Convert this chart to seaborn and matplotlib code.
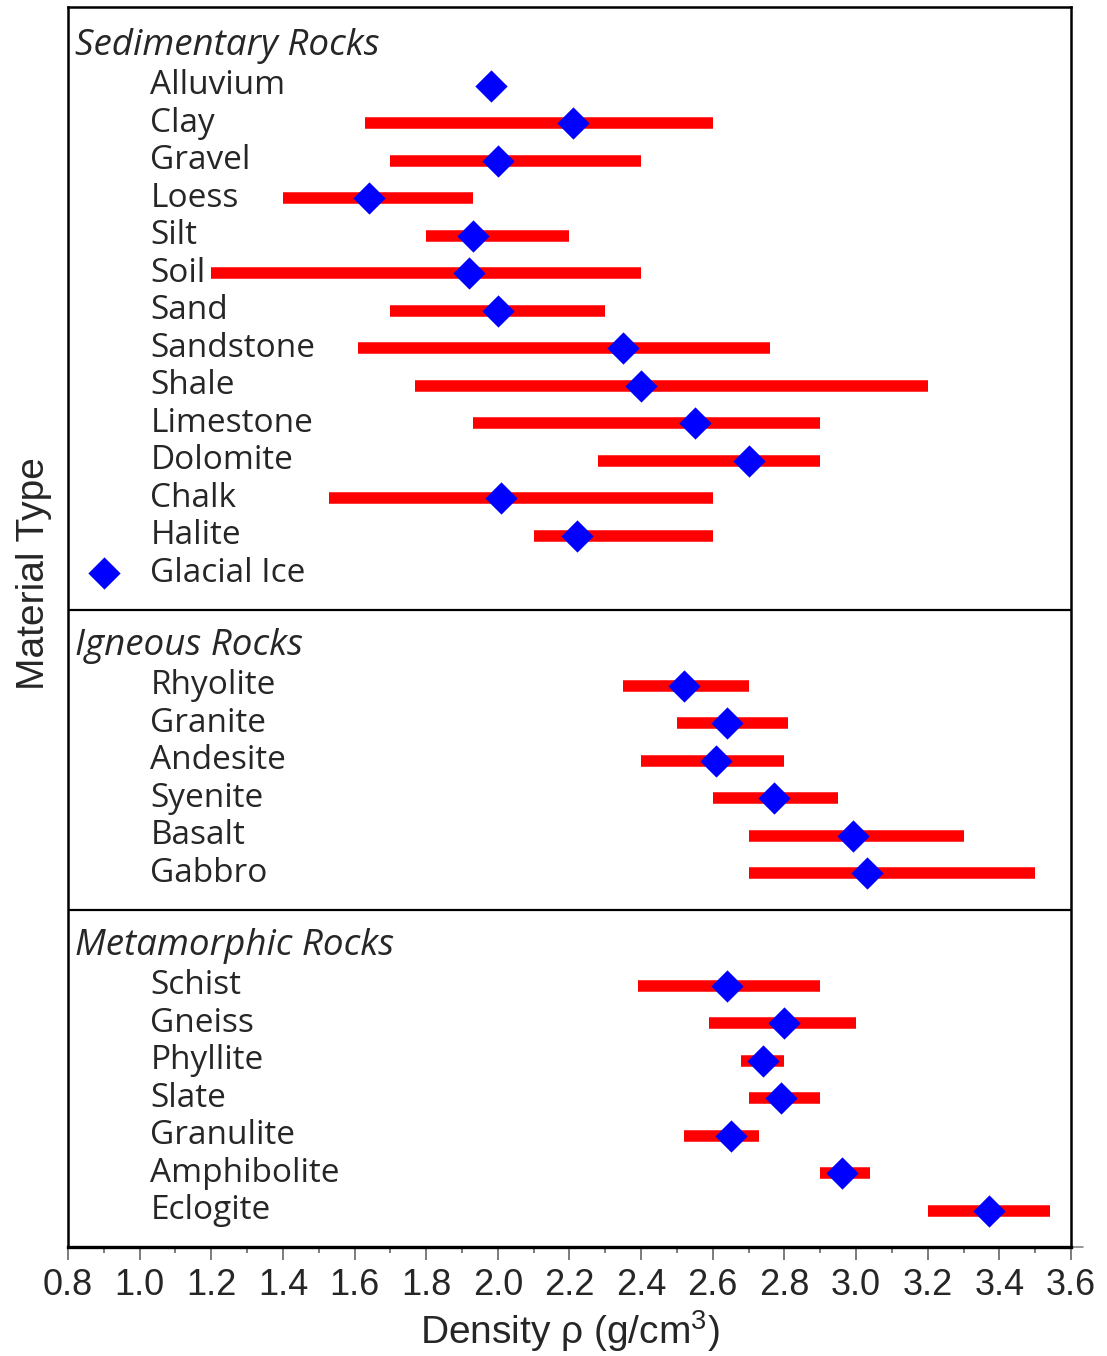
import numpy as np
import pandas as pd
import matplotlib
matplotlib.use('Agg')
import matplotlib.pyplot as plt
from matplotlib.ticker import MultipleLocator
import seaborn as sns

# rock groups and their members (top to bottom)
groups = ['Sedimentary Rocks', 'Igneous Rocks', 'Metamorphic Rocks']

sed_names = ['Alluvium', 'Clay', 'Gravel', 'Loess', 'Silt', 'Soil', 'Sand', 'Sandstone',
             'Shale', 'Limestone', 'Dolomite', 'Chalk', 'Halite', 'Glacial Ice']
sed_low = [np.nan, 1.63, 1.70, 1.40, 1.80, 1.20, 1.70, 1.61, 1.77, 1.93, 2.28, 1.53, 2.10, np.nan]
sed_high = [np.nan, 2.60, 2.40, 1.93, 2.20, 2.40, 2.30, 2.76, 3.20, 2.90, 2.90, 2.60, 2.60, np.nan]
sed_typ = [1.98, 2.21, 2.00, 1.64, 1.93, 1.92, 2.00, 2.35, 2.40, 2.55, 2.70, 2.01, 2.22, 0.90]

ign_names = ['Rhyolite', 'Granite', 'Andesite', 'Syenite', 'Basalt', 'Gabbro']
ign_low = [2.35, 2.50, 2.40, 2.60, 2.70, 2.70]
ign_high = [2.70, 2.81, 2.80, 2.95, 3.30, 3.50]
ign_typ = [2.52, 2.64, 2.61, 2.77, 2.99, 3.03]

met_names = ['Schist', 'Gneiss', 'Phyllite', 'Slate', 'Granulite', 'Amphibolite', 'Eclogite']
met_low = [2.39, 2.59, 2.68, 2.70, 2.52, 2.90, 3.20]
met_high = [2.90, 3.00, 2.80, 2.90, 2.73, 3.04, 3.54]
met_typ = [2.64, 2.80, 2.74, 2.79, 2.65, 2.96, 3.37]

# build one table, with a row position for every entry (header rows in between)
frames = []
headers = []
separators = []
row = 1
for g, names, lo, hi, typ in zip(groups,
                                 [sed_names, ign_names, met_names],
                                 [sed_low, ign_low, met_low],
                                 [sed_high, ign_high, met_high],
                                 [sed_typ, ign_typ, met_typ]):
    headers.append((g, row + 0.04))
    rows = row + 1.1 + np.arange(len(names))
    frames.append(pd.DataFrame({'name': names, 'group': g, 'low': lo,
                                'high': hi, 'typical': typ, 'row': rows}))
    row = row + len(names) + 1
    separators.append(row + 0.07)
    row += 1
df = pd.concat(frames, ignore_index=True)
separators = separators[:-1]

sns.set_style('white')
label_font = ['Open Sans', 'DejaVu Sans']
axis_font = ['Liberation Sans', 'DejaVu Sans']
plt.rcParams['mathtext.fontset'] = 'custom'
plt.rcParams['mathtext.rm'] = 'Liberation Sans'

fig = plt.figure(figsize=(11.07, 13.56), dpi=100)
ax = fig.add_axes([0.0614, 0.0804, 0.9061, 0.9144])

# density ranges
ax.hlines(df['row'], df['low'], df['high'], color='#ff0000', lw=8.3, zorder=2)
# typical values
sns.scatterplot(data=df, x='typical', y='row', marker='D', s=270, color='#0000ff',
                linewidth=0, zorder=3, ax=ax, legend=False)

for name, r in zip(df['name'], df['row']):
    ax.text(1.03, r, name, fontsize=24, family=label_font, va='center', ha='left')
for g, r in headers:
    ax.text(0.82, r, g, fontsize=26.5, family=label_font, style='italic',
            va='center', ha='left')
for s in separators:
    ax.axhline(s, color='black', lw=1.6)

ax.set_xlim(0.8, 3.6)
ax.set_ylim(33.07, 0)
ax.xaxis.set_major_locator(MultipleLocator(0.2))
ax.xaxis.set_minor_locator(MultipleLocator(0.1))
ax.xaxis.set_major_formatter(matplotlib.ticker.FormatStrFormatter('%.1f'))
ax.set_yticks([])
ax.tick_params(axis='x', which='major', direction='out', length=9, width=1.2,
               color='#666666', labelsize=26, pad=6, bottom=True)
ax.tick_params(axis='x', which='minor', direction='out', length=4.5, width=1.2,
               color='#666666', bottom=True)
for lab in ax.get_xticklabels():
    lab.set_family(axis_font)
for sp in ax.spines.values():
    sp.set_color('black')
    sp.set_linewidth(1.8)
ax.spines['bottom'].set_linewidth(2.4)
ax.plot([1, 1.012], [0, 0], transform=ax.transAxes, color='#888888', lw=1.2, clip_on=False)

ax.set_xlabel('Density ρ (g/cm$^{3}$)', fontsize=28, family=axis_font, labelpad=4)
ax.set_ylabel('Material Type', fontsize=28, family=axis_font)
ax.yaxis.set_label_coords(-0.016, 0.543)

fig.savefig('out.png', dpi=100)
